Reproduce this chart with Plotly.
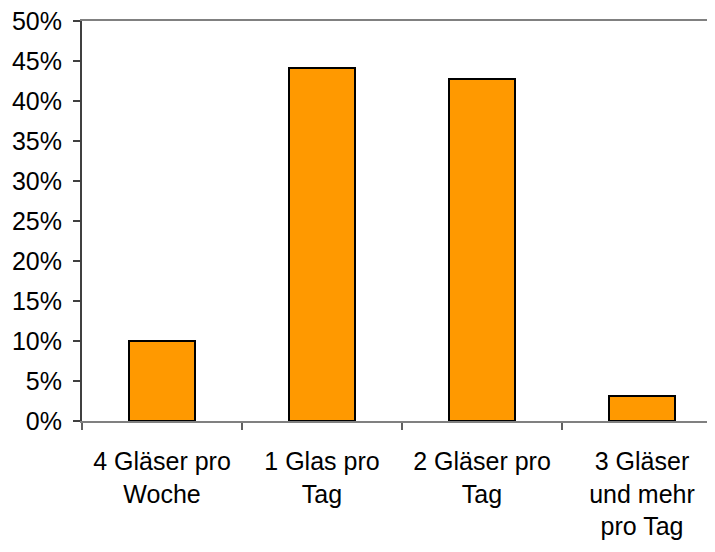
import plotly.graph_objects as go

categories = ["4 Gläser pro<br>Woche", "1 Glas pro<br>Tag", "2 Gläser pro<br>Tag", "3 Gläser<br>und mehr<br>pro Tag"]
values = [0.10, 0.441, 0.428, 0.031]
y_ticks = [0, 0.05, 0.10, 0.15, 0.20, 0.25, 0.30, 0.35, 0.40, 0.45, 0.50]
y_labels = ["0%", "5%", "10%", "15%", "20%", "25%", "30%", "35%", "40%", "45%", "50%"]

fig = go.Figure(go.Bar(
    x=list(range(len(categories))),
    y=values,
    width=0.41,
    marker=dict(color="#FF9900", line=dict(color="black", width=2)),
))

fig.update_layout(
    width=715, height=552,
    margin=dict(l=74, r=1, t=13, b=139, autoexpand=False),
    paper_bgcolor="white", plot_bgcolor="white",
    font=dict(family="Liberation Sans, Arial, sans-serif", size=24, color="black"),
    showlegend=False,
    bargap=0,
)
fig.update_xaxes(
    tickmode="array", tickvals=list(range(len(categories))), ticktext=categories,
    range=[-0.5, 3.5],
    showline=True, linecolor="#808080", linewidth=2, mirror=True,
    ticks="", showgrid=False, zeroline=False, automargin=False,
    tickfont=dict(size=25), ticklabelstandoff=17,
)
fig.update_xaxes(minor=dict(tickmode="array", tickvals=[-0.5, 0.5, 1.5, 2.5, 3.5], ticks="outside", ticklen=7, tickcolor="#606060", tickwidth=1.5))
fig.update_yaxes(
    range=[0, 0.5], tickmode="array", tickvals=y_ticks, ticktext=y_labels,
    showline=True, linecolor="#404040", linewidth=2,
    ticks="outside", ticklen=7, tickcolor="#404040", tickwidth=1.5,
    showgrid=False, zeroline=False, automargin=False,
    tickfont=dict(size=25), ticklabelstandoff=6, ticklabeloverflow="allow",
)
fig.write_html("out.html")
